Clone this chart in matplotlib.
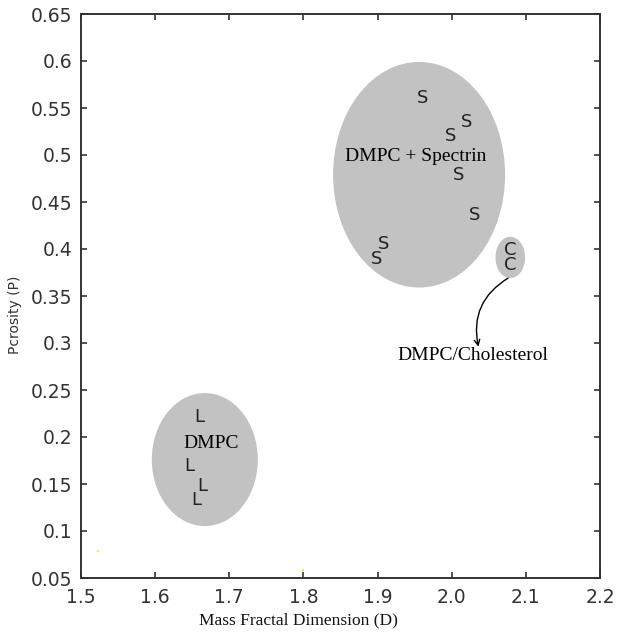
import matplotlib
matplotlib.use("Agg")
import matplotlib.pyplot as plt
from matplotlib.patches import Ellipse

# ---- data ----
s_x = [1.961, 2.020, 1.998, 2.009, 2.031, 1.908, 1.899]
s_y = [0.561, 0.535, 0.520, 0.479, 0.436, 0.405, 0.389]
l_x = [1.660, 1.646, 1.664, 1.655]
l_y = [0.221, 0.169, 0.148, 0.133]
c_x = [2.079, 2.079]
c_y = [0.399, 0.383]

groups = ["DMPC + Spectrin", "DMPC", "DMPC/Cholesterol"]
ell_cx = [1.956, 1.667, 2.079]
ell_cy = [0.479, 0.176, 0.391]
ell_w = [0.232, 0.143, 0.040]
ell_h = [0.240, 0.1415, 0.044]

label_x = [1.952, 1.676, 2.029]
label_y = [0.498, 0.193, 0.287]

arrow_start = (2.076, 0.369)
arrow_end = (2.036, 0.296)

yellow_x = [1.523, 1.800]
yellow_y = [0.0786, 0.059]

xticks = [1.5, 1.6, 1.7, 1.8, 1.9, 2.0, 2.1, 2.2]
xticklabels = ["1.5", "1.6", "1.7", "1.8", "1.9", "2.0", "2.1", "2.2"]
yticks = [0.05, 0.1, 0.15, 0.2, 0.25, 0.3, 0.35, 0.4, 0.45, 0.5, 0.55, 0.6, 0.65]
yticklabels = ["0.05", "0.1", "0.15", "0.2", "0.25", "0.3", "0.35", "0.4",
               "0.45", "0.5", "0.55", "0.6", "0.65"]

# ---- figure ----
fig = plt.figure(figsize=(6.18, 6.32), dpi=100)
ax = fig.add_axes([81/618, 1-578/632, (600-81)/618, (578-14)/632])
ax.set_xlim(1.5, 2.2)
ax.set_ylim(0.05, 0.65)

gray = "#c2c2c2"
for cx, cy, w, h in zip(ell_cx, ell_cy, ell_w, ell_h):
    ax.add_patch(Ellipse((cx, cy), w, h, facecolor=gray, edgecolor="none", zorder=1))

sans = "DejaVu Sans"
serif = "Liberation Serif"
mk_size = 13
for x, y in zip(s_x, s_y):
    ax.text(x, y, "S", ha="center", va="center", fontsize=mk_size, family=sans,
            color="#222222", zorder=3)
for x, y in zip(l_x, l_y):
    ax.text(x, y, "L", ha="center", va="center", fontsize=mk_size, family=sans,
            color="#222222", zorder=3)
for x, y in zip(c_x, c_y):
    ax.text(x, y, "C", ha="center", va="center", fontsize=mk_size, family=sans,
            color="#222222", zorder=3)

for g, x, y in zip(groups, label_x, label_y):
    ax.text(x, y, g, ha="center", va="center", fontsize=14, family=serif,
            color="black", zorder=4)

ax.annotate("", xy=arrow_end, xytext=arrow_start,
            arrowprops=dict(arrowstyle="->", color="black", lw=1.0,
                            connectionstyle="arc3,rad=0.35",
                            shrinkA=0, shrinkB=0),
            zorder=4)

ax.scatter(yellow_x, yellow_y, s=4, color="yellow", marker="s", zorder=2, linewidths=0)

ax.set_xticks(xticks)
ax.set_xticklabels(xticklabels)
ax.set_yticks(yticks)
ax.set_yticklabels(yticklabels)
ax.tick_params(direction="in", length=4, width=1.2, color="#333333",
               top=True, right=True, labelsize=13.5, labelcolor="#333333")
ax.tick_params(axis="y", pad=6)
ax.tick_params(axis="x", pad=7)
for lab in ax.get_xticklabels() + ax.get_yticklabels():
    lab.set_family(sans)
for sp in ax.spines.values():
    sp.set_linewidth(1.4)
    sp.set_color("#333333")

ax.set_xlabel("Mass Fractal Dimension (D)", family=serif, fontsize=12.5, color="#111111")
ax.xaxis.set_label_coords((298-81)/519, -(612-578)/564, transform=ax.transAxes)
ax.set_ylabel("Pcrosity (P)", family=sans, fontsize=10, color="#333333")
ax.yaxis.set_label_coords(-(81-22)/519, (578-315)/564, transform=ax.transAxes)

fig.savefig("out.png", dpi=100)
